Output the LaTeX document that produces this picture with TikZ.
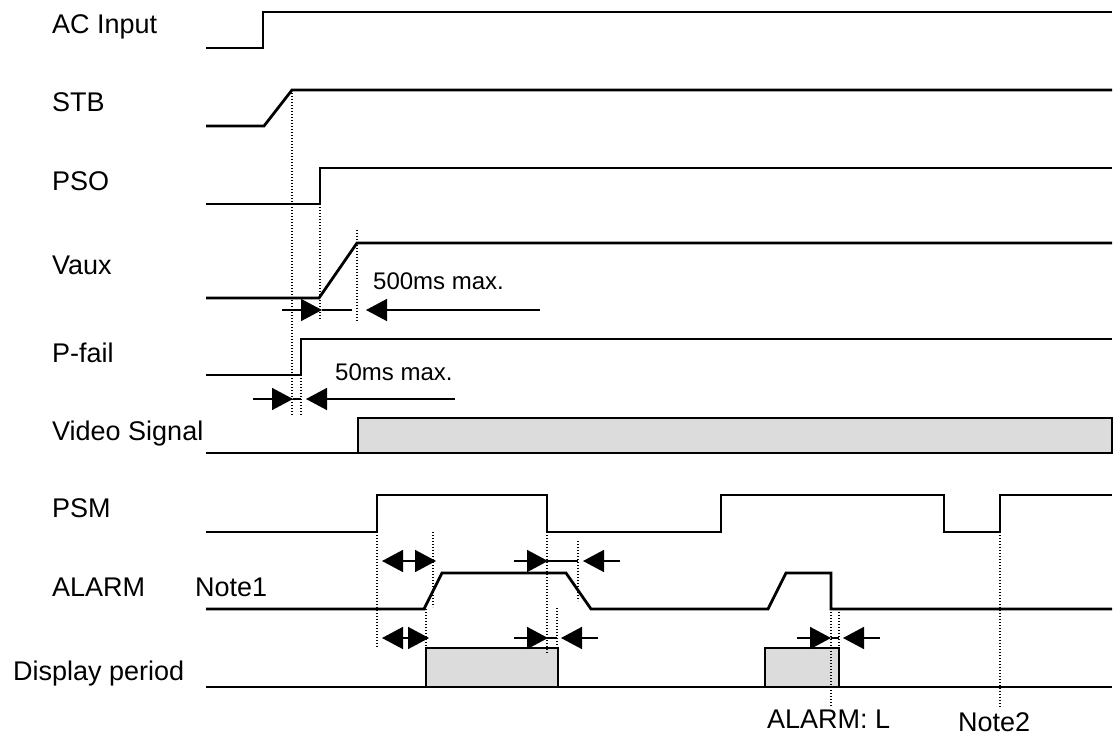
\documentclass[tikz,border=0pt]{standalone}
\usepackage{fontspec}
\setmainfont{Liberation Sans}
\usetikzlibrary{arrows.meta}
\definecolor{shade}{RGB}{220,220,220}

\begin{document}
\begin{tikzpicture}[x=1pt, y=-1pt,
    sig/.style={line width=2.8pt, line join=miter},
    guide/.style={line width=1.4pt, dash pattern=on 1.4pt off 1.6pt},
    dim/.style={line width=1.6pt, -{Triangle[length=21pt, width=22pt]}},
    bar/.style={line width=1.6pt},
    lbl/.style={anchor=base west, inner sep=0pt, font=\fontsize{27}{32}\selectfont},
    note/.style={anchor=base west, inner sep=0pt, font=\fontsize{24}{28}\selectfont}]
    \useasboundingbox (0,0) rectangle (1117,738);

    % signal names
    \node[lbl] (acin) at (52,34) {AC Input};
    \node[lbl] (stb) at (52,112) {STB};
    \node[lbl] (pso) at (52,191) {PSO};
    \node[lbl] (vaux) at (52,275) {Vaux};
    \node[lbl] (pfail) at (52,362) {P-fail};
    \node[lbl] (video) at (52,440) {Video Signal};
    \node[lbl] (psm) at (52,517) {PSM};
    \node[lbl] (alarm) at (52,596) {ALARM};
    \node[lbl] (disp) at (13,680) {Display period};
    \node[lbl] (note1) at (195,596) {Note1};
    \node[lbl] (alarml) at (767,728) {ALARM: L};
    \node[lbl] (note2) at (958,731) {Note2};
    \node[note] (t500) at (373,290) {500ms max.};
    \node[note] (t50) at (335,380) {50ms max.};

    % waveforms
    \draw[sig] (206,48) -- (263,48) -- (263,12) -- (1112,12);
    \draw[sig] (206,126) -- (264,126) -- (292,90) -- (1112,90);
    \draw[sig] (206,204) -- (320,204) -- (320,168) -- (1112,168);
    \draw[sig] (206,298) -- (319,298) -- (357,243) -- (1112,243);
    \draw[sig] (206,375) -- (301,375) -- (301,339) -- (1112,339);
    \draw[sig] (206,453) -- (358,453);
    \draw[sig, fill=shade] (358,418) rectangle (1112,453);
    \draw[sig] (206,532) -- (377,532) -- (377,495) -- (547,495) -- (547,532)
        -- (721,532) -- (721,495) -- (944,495) -- (944,532)
        -- (1000,532) -- (1000,495) -- (1112,495);
    \draw[sig] (206,609) -- (424,609) -- (442,573) -- (566,573) -- (591,609)
        -- (768,609) -- (786,573) -- (831,573) -- (831,609) -- (1112,609);
    \draw[sig] (206,687) -- (1112,687);
    \draw[sig, fill=shade] (426,648) rectangle (558,687);
    \draw[sig, fill=shade] (765,648) rectangle (839,687);

    % timing guides
    \draw[guide] (292,90) -- (292,415);
    \draw[guide] (320,204) -- (320,320);
    \draw[guide] (357,230) -- (357,322);
    \draw[guide] (301,375) -- (301,415);
    \draw[guide] (377,532) -- (377,647);
    \draw[guide] (433,532) -- (433,607);
    \draw[guide] (547,532) -- (547,653);
    \draw[guide] (578,541) -- (578,601);
    \draw[guide] (426,609) -- (426,648);
    \draw[guide] (557,608) -- (557,648);
    \draw[guide] (831,609) -- (831,707);
    \draw[guide] (839,609) -- (839,648);
    \draw[guide] (1000,532) -- (1000,707);

    % delay marks
    \draw[dim] (282,310) -- (322,310);
    \draw[bar] (322,310) -- (352,310);
    \draw[dim] (540,310) -- (366,310);
    \draw[dim] (253,399) -- (293,399);
    \draw[bar] (293,399) -- (301,399);
    \draw[dim] (455,399) -- (306,399);
    \draw[dim] (410,561) -- (382,561);
    \draw[dim] (410,561) -- (436,561);
    \draw[dim] (514,561) -- (548,561);
    \draw[bar] (547,561) -- (578,561);
    \draw[dim] (620,561) -- (583,561);
    \draw[dim] (406,638) -- (382,638);
    \draw[dim] (406,638) -- (429,638);
    \draw[dim] (514,638) -- (548,638);
    \draw[bar] (547,638) -- (557,638);
    \draw[dim] (598,638) -- (561,638);
    \draw[dim] (797,638) -- (831,638);
    \draw[bar] (831,638) -- (839,638);
    \draw[dim] (880,638) -- (843,638);
\end{tikzpicture}
\end{document}
